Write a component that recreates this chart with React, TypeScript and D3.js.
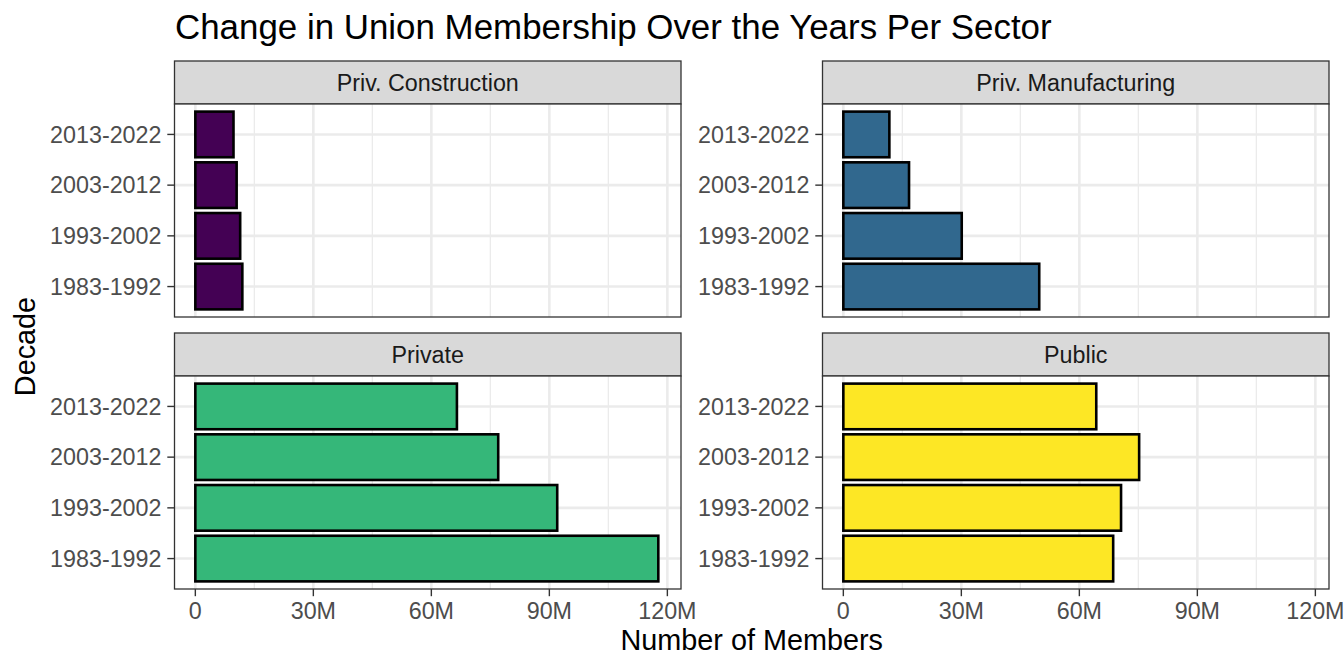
import React from "react";
import * as d3 from "d3";

const decades = ["2013-2022", "2003-2012", "1993-2002", "1983-1992"];
const sectors = ["Priv. Construction", "Priv. Manufacturing", "Private", "Public"];
const sectorColors = ["#440154", "#31688E", "#35B779", "#FDE725"];
// values in millions, order matches decades
const constructionValues = [9.7, 10.5, 11.4, 11.95];
const manufacturingValues = [11.7, 16.7, 30.1, 49.8];
const privateValues = [66.5, 77.0, 92.0, 117.7];
const publicValues = [64.3, 75.2, 70.6, 68.6];
const seriesValues = [constructionValues, manufacturingValues, privateValues, publicValues];
const xTicks = [0, 30, 60, 90, 120];
const xMinorTicks = [15, 45, 75, 105];
const xTickLabels = ["0", "30M", "60M", "90M", "120M"];

const W = 1344;
const H = 672;
const FONT = "'Liberation Sans', Arial, sans-serif";

const panelW = 506.5;
const colX = [174.5, 822.5];
const stripTop = [61, 333];
const stripH = 43;
const plotH = 213;
const TICK_FS = 23.3;

export default function App() {
  const xMax = d3.max(seriesValues.flat()) as number;
  const x = d3
    .scaleLinear()
    .domain([-xMax * 0.045, xMax * 1.049])
    .range([0, panelW]);
  const y = d3.scalePoint<string>().domain(decades).range([0, plotH]).padding(0.6);
  const bh = y.step() * 0.9;

  return (
    <svg width={W} height={H} style={{ position: "absolute", left: 0, top: 0, background: "#fff" }} fontFamily={FONT}>
      <rect x={0} y={0} width={W} height={H} fill="#fff" />
      <text x={175} y={39} fontSize={34.9} fill="#000">
        Change in Union Membership Over the Years Per Sector
      </text>
      {sectors.map((s, i) => {
        const col = i % 2;
        const row = Math.floor(i / 2);
        const px = colX[col];
        const sy = stripTop[row];
        const py = sy + stripH;
        const vals = seriesValues[i];
        return (
          <g key={s}>
            <rect x={px} y={sy} width={panelW} height={stripH} fill="#D9D9D9" stroke="#333333" strokeWidth={1.3} />
            <text x={px + panelW / 2} y={sy + stripH / 2 + 8.2} textAnchor="middle" fontSize={TICK_FS} fill="#1A1A1A">
              {s}
            </text>
            <g transform={`translate(${px},${py})`}>
              <rect x={0} y={0} width={panelW} height={plotH} fill="#fff" />
              {xMinorTicks.map((t) => (
                <line key={"m" + t} x1={x(t)} x2={x(t)} y1={0} y2={plotH} stroke="#EBEBEB" strokeWidth={1.3} />
              ))}
              {xTicks.map((t) => (
                <line key={"M" + t} x1={x(t)} x2={x(t)} y1={0} y2={plotH} stroke="#EBEBEB" strokeWidth={2.6} />
              ))}
              {decades.map((d) => (
                <line key={"g" + d} x1={0} x2={panelW} y1={y(d)} y2={y(d)} stroke="#EBEBEB" strokeWidth={2.6} />
              ))}
              {decades.map((d, j) => (
                <rect
                  key={"b" + d}
                  x={x(0)}
                  y={(y(d) as number) - bh / 2}
                  width={x(vals[j]) - x(0)}
                  height={bh}
                  fill={sectorColors[i]}
                  stroke="#000"
                  strokeWidth={2.6}
                />
              ))}
              <rect x={0} y={0} width={panelW} height={plotH} fill="none" stroke="#333333" strokeWidth={1.3} />
              {decades.map((d) => (
                <g key={"yt" + d}>
                  <line x1={-7.2} x2={0} y1={y(d)} y2={y(d)} stroke="#333333" strokeWidth={1.4} />
                  <text x={-13} y={(y(d) as number) + 8.2} textAnchor="end" fontSize={TICK_FS} fill="#4D4D4D">
                    {d}
                  </text>
                </g>
              ))}
              {row === 1 &&
                xTicks.map((t, k) => (
                  <g key={"xt" + t}>
                    <line x1={x(t)} x2={x(t)} y1={plotH} y2={plotH + 7.2} stroke="#333333" strokeWidth={1.4} />
                    <text x={x(t)} y={plotH + 29.5} textAnchor="middle" fontSize={TICK_FS} fill="#4D4D4D">
                      {xTickLabels[k]}
                    </text>
                  </g>
                ))}
            </g>
          </g>
        );
      })}
      <text x={(colX[0] + colX[1] + panelW) / 2} y={650} textAnchor="middle" fontSize={28.8} fill="#000">
        Number of Members
      </text>
      <text
        transform={`translate(35,${(stripTop[0] + stripH + stripTop[1] + stripH + plotH) / 2}) rotate(-90)`}
        textAnchor="middle"
        fontSize={28.8}
        fill="#000"
      >
        Decade
      </text>
    </svg>
  );
}
